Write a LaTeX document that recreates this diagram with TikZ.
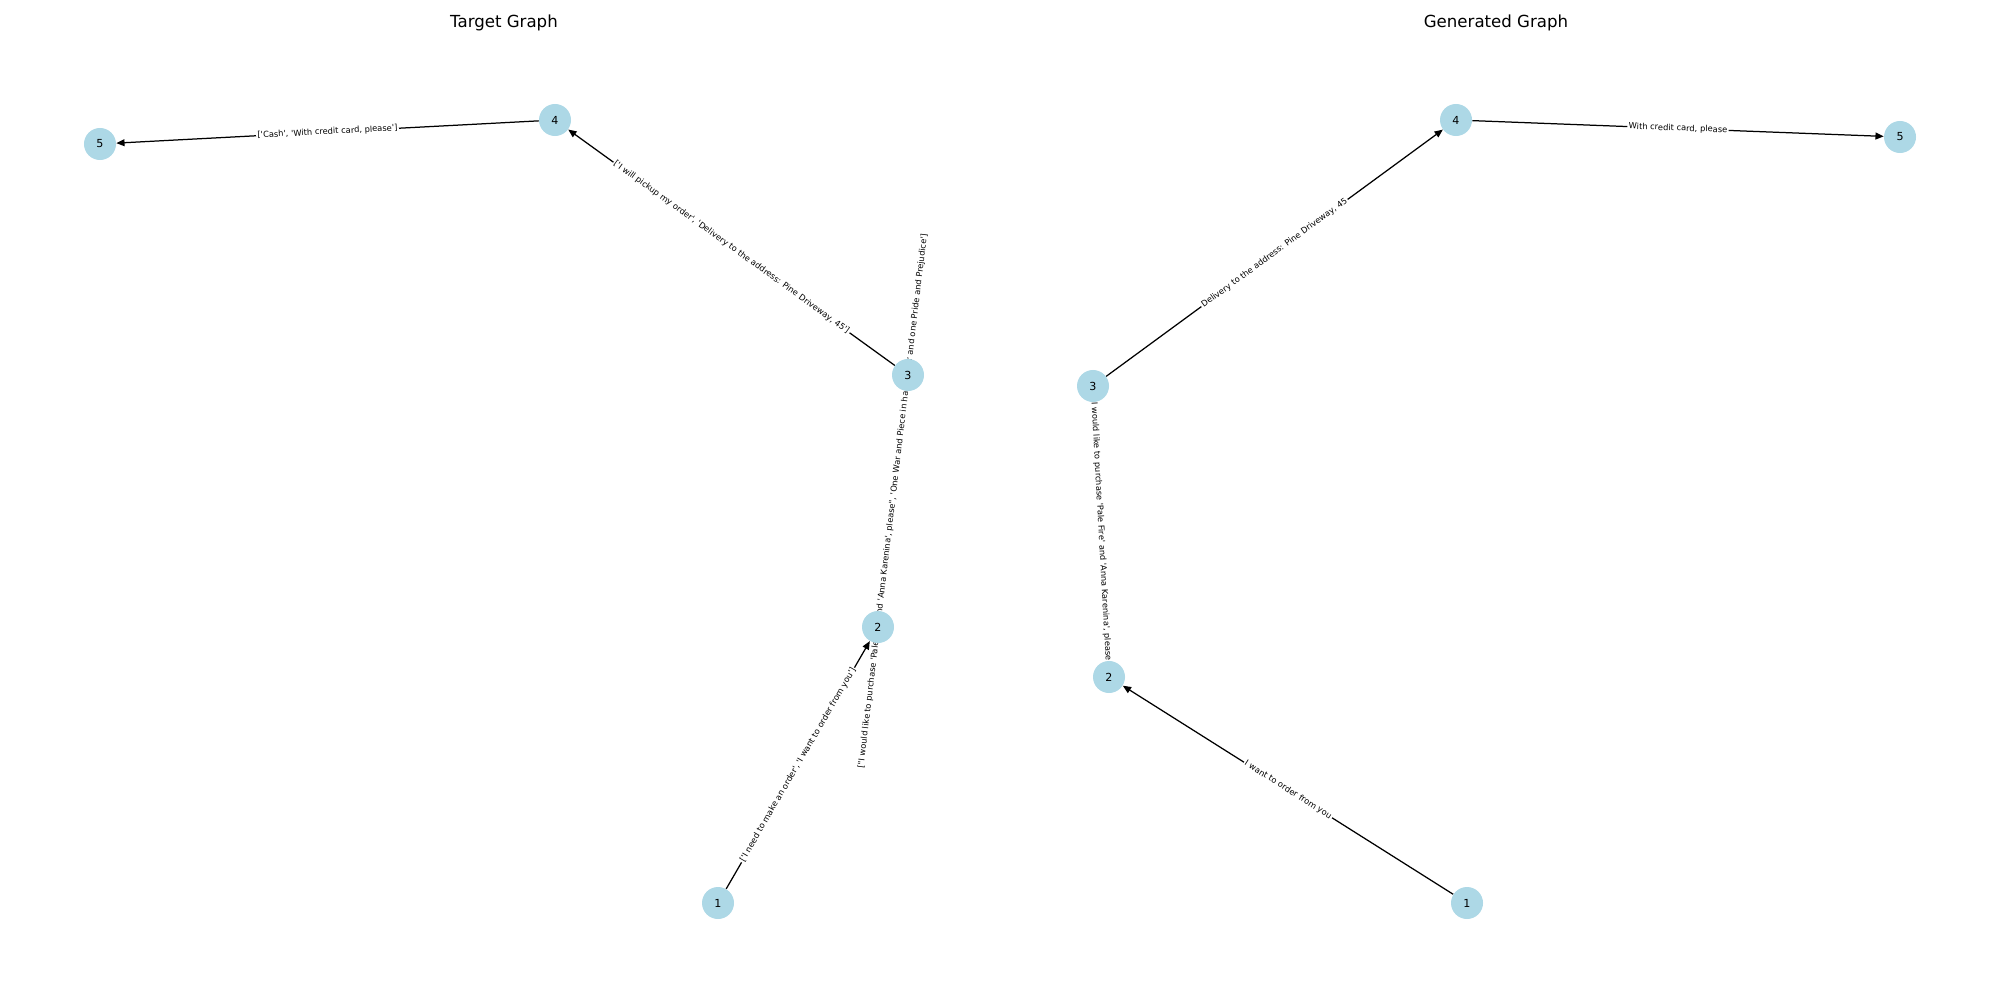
\documentclass[tikz,border=0pt]{standalone}
\usepackage{fontspec}
\setmainfont{DejaVu Sans}[Ligatures=TeXOff]
\usetikzlibrary{arrows.meta,backgrounds}
\definecolor{nodeblue}{HTML}{ADD8E6}
\begin{document}
\begin{tikzpicture}[x=0.01in,y=-0.01in,
		vertex/.style={circle,fill=nodeblue,minimum size=0.32in,inner sep=0pt,font=\fontsize{8}{8}\selectfont},
		edge/.style={-{Triangle[length=6pt,width=5pt]},line width=0.9pt},
		elabel/.style={midway,sloped,fill=white,inner sep=1pt,font=\fontsize{6}{6}\selectfont},
		title/.style={anchor=base,font=\fontsize{12}{12}\selectfont}]
		  \useasboundingbox (0,0) rectangle (2000,1000);
		  \node[title] (ttarget) at (504,28) {Target Graph};
		  \node[title] (tgen) at (1496,28) {Generated Graph};
  % target graph
		  \node[vertex] (t1) at (718,903) {1};
		  \node[vertex] (t2) at (878,627) {2};
		  \node[vertex] (t3) at (908,375) {3};
		  \node[vertex] (t4) at (555,120) {4};
		  \node[vertex] (t5) at (100,144) {5};
  % generated graph
		  \node[vertex] (g1) at (1467,903) {1};
		  \node[vertex] (g2) at (1109,677) {2};
		  \node[vertex] (g3) at (1093,386) {3};
		  \node[vertex] (g4) at (1456,120) {4};
		  \node[vertex] (g5) at (1900,137) {5};
		  \begin{scope}[on background layer]
		  \draw[edge] (t1) -- (t2) node[elabel] {['I need to make an order', 'I want to order from you']};
		  \draw[edge] (t2) -- (t3) node[elabel] {["I would like to purchase 'Pale Fire' and 'Anna Karenina', please", 'One War and Piece in hard cover and one Pride and Prejudice']};
		  \draw[edge] (t3) -- (t4) node[elabel] {['I will pickup my order', 'Delivery to the address: Pine Driveway, 45']};
		  \draw[edge] (t4) -- (t5) node[elabel] {['Cash', 'With credit card, please']};
		  \draw[edge] (g1) -- (g2) node[elabel] {I want to order from you};
		  \draw[edge] (g2) -- (g3) node[elabel] {I would like to purchase 'Pale Fire' and 'Anna Karenina', please};
		  \draw[edge] (g3) -- (g4) node[elabel] {Delivery to the address: Pine Driveway, 45};
		  \draw[edge] (g4) -- (g5) node[elabel] {With credit card, please};
		  \end{scope}
		\end{tikzpicture}
\end{document}
